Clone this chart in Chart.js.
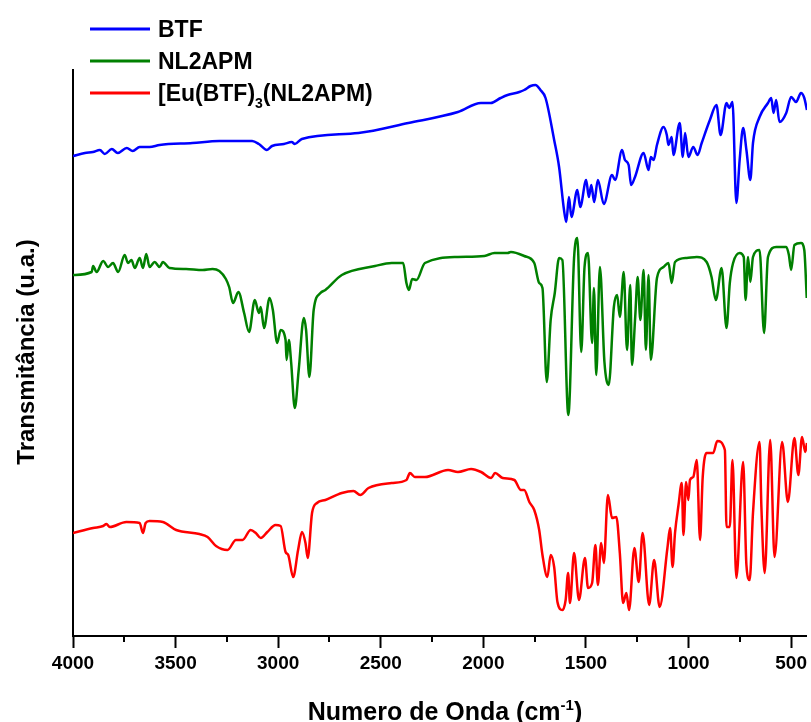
<!DOCTYPE html>
<html>
<head>
    <title>FTIR BTF / NL2APM / Eu complex</title>
    <script src="https://cdn.jsdelivr.net/npm/chart.js"></script>
    <style>
        html, body { margin: 0; padding: 0; background: #fff; overflow: hidden; }
        #chart-container { width: 811px; height: 722px; }
    </style>
</head>
<body>
    <div id="chart-container">
        <canvas id="ftirChart"></canvas>
    </div>

    <script>
    // eixo x (número de onda, cm-1)
    const wavenumberTicks = [4000, 3500, 3000, 2500, 2000, 1500, 1000, 500];
    const minorTicks = [3750, 3250, 2750, 2250, 1750, 1250, 750];

    // BTF
    const btfWave = [4000,3942,3903,3869,3845,3811,3782,3738,3709,3675,3627,3578,3418,3287,3157,3127,3094,3055,3030,2972,2934,2919,2885,2609,2366,2124,2012,1964,1916,1882,1825,1801,1770,1746,1722,1697,1655,1631,1607,1596,1583,1571,1542,1528,1499,1486,1474,1460,1442,1413,1373,1358,1324,1310,1292,1280,1261,1219,1195,1184,1170,1154,1122,1106,1098,1082,1074,1043,1028,1017,1001,977,956,936,896,864,844,815,802,786,767,751,734,718,699,686,654,613,597,586,573,557,524,500,476,452,436,423];
    const btfT = [476,479,480,482,478,483,479,484,481,485,485,487,489,491,491,491,488,482,486,488,490,488,493,499,509,520,529,529,534,537,540,542,546,547,542,534,492,465,422,410,435,415,442,425,452,435,447,430,452,428,457,452,482,472,467,447,455,479,462,475,472,487,505,497,487,495,477,509,475,499,475,485,477,489,512,527,497,529,524,530,429,472,504,482,452,489,515,529,534,519,532,510,519,535,530,539,534,522];

    // NL2APM
    const nlWave = [4000,3909,3902,3885,3853,3829,3805,3780,3748,3732,3715,3699,3675,3659,3643,3627,3602,3578,3562,3530,3449,3368,3320,3287,3255,3239,3220,3194,3166,3142,3114,3094,3085,3069,3042,3026,3005,2988,2964,2959,2948,2937,2919,2900,2875,2864,2848,2827,2794,2770,2690,2528,2447,2391,2375,2363,2347,2326,2285,2124,1995,1946,1882,1866,1801,1752,1728,1712,1691,1672,1652,1631,1615,1586,1558,1542,1523,1507,1490,1470,1461,1450,1432,1410,1389,1364,1348,1335,1316,1300,1284,1276,1260,1248,1235,1219,1208,1195,1184,1154,1122,1098,1082,1066,1009,960,912,888,867,839,815,799,783,751,731,722,710,699,686,654,632,613,573,524,511,500,484,452,436,424];
    const nlT = [357,360,366,360,371,365,369,360,377,369,372,364,374,364,378,365,370,365,370,364,363,362,363,361,353,345,329,340,319,300,332,319,325,304,334,322,289,302,292,272,292,270,224,262,314,302,255,322,339,342,357,366,369,369,349,342,353,352,369,375,376,379,379,380,376,369,349,344,250,312,339,374,372,217,374,394,280,365,379,289,344,257,365,270,247,325,337,315,360,282,347,267,315,355,312,362,282,357,272,354,365,369,349,370,374,375,370,355,332,364,304,349,369,379,375,332,375,350,375,382,299,375,385,385,377,362,387,389,382,334];

    // [Eu(BTF)3(NL2APM)
    const euWave = [4000,3902,3853,3837,3821,3740,3675,3659,3646,3627,3562,3497,3384,3344,3303,3247,3206,3174,3134,3109,3085,3053,3013,2988,2964,2951,2927,2903,2884,2867,2856,2835,2811,2770,2690,2633,2600,2560,2447,2375,2358,2334,2285,2172,2124,2060,2011,1962,1943,1906,1849,1817,1801,1776,1752,1728,1712,1688,1672,1655,1639,1615,1599,1587,1578,1558,1534,1505,1490,1470,1454,1442,1426,1413,1393,1373,1352,1335,1319,1303,1290,1264,1243,1224,1192,1168,1141,1103,1090,1078,1066,1049,1033,1025,1012,1001,993,977,960,944,931,912,880,860,823,815,799,786,767,734,718,702,686,654,645,629,602,581,544,516,484,465,447,431,423];
    const euT = [99,104,106,108,105,110,109,99,109,111,110,102,98,95,86,82,92,92,102,99,94,100,107,106,80,77,55,82,100,89,74,119,129,132,139,141,137,144,149,152,159,155,155,162,160,163,160,154,159,154,152,142,142,130,122,102,77,55,77,65,30,22,32,59,29,79,32,74,44,49,87,47,89,69,137,114,115,79,29,39,22,84,50,99,27,72,25,84,104,65,99,127,149,97,150,132,152,155,172,92,155,179,179,191,182,105,105,172,54,170,67,52,119,190,125,59,192,75,190,130,194,157,195,180,189];

    const FONT = '"Liberation Sans", Arial, Helvetica, sans-serif';

    function toPoints(wave, t) {
        if (wave.length !== t.length) console.warn('tamanhos diferentes', wave.length, t.length);
        return wave.map((w, i) => ({ x: w, y: t[i] }));
    }

    // títulos, legenda e ticks menores
    const decorations = {
        id: 'decorations',
        afterDraw(chart) {
            const ctx = chart.ctx;
            const area = chart.chartArea;
            const xs = chart.scales.x;
            ctx.save();
            ctx.strokeStyle = '#000';
            ctx.fillStyle = '#000';
            ctx.lineWidth = 2;

            // ticks menores
            minorTicks.forEach(v => {
                const px = Math.round(xs.getPixelForValue(v));
                ctx.beginPath();
                ctx.moveTo(px, area.bottom);
                ctx.lineTo(px, area.bottom + 6);
                ctx.stroke();
            });

            // título eixo x com sobrescrito
            const main = 'Numero de Onda (cm';
            const sup = '-1';
            const close = ')';
            ctx.font = 'bold 25px ' + FONT;
            const w1 = ctx.measureText(main).width;
            const w3 = ctx.measureText(close).width;
            ctx.font = 'bold 15px ' + FONT;
            const w2 = ctx.measureText(sup).width;
            let x0 = 445 - (w1 + w2 + w3) / 2;
            const base = 720;
            ctx.textBaseline = 'alphabetic';
            ctx.textAlign = 'left';
            ctx.font = 'bold 25px ' + FONT;
            ctx.fillText(main, x0, base);
            ctx.font = 'bold 15px ' + FONT;
            ctx.fillText(sup, x0 + w1, base - 10);
            ctx.font = 'bold 25px ' + FONT;
            ctx.fillText(close, x0 + w1 + w2, base);

            // título eixo y
            ctx.save();
            ctx.translate(34, 352);
            ctx.rotate(-Math.PI / 2);
            ctx.textAlign = 'center';
            ctx.font = 'bold 24px ' + FONT;
            ctx.fillText('Transmitância (u.a.)', 0, 0);
            ctx.restore();

            // legenda
            const rows = [
                { color: '#0000ff', y: 29, parts: [['BTF', 23, 0]] },
                { color: '#008000', y: 61, parts: [['NL2APM', 23, 0]] },
                { color: '#ff0000', y: 93, parts: [['[Eu(BTF)', 23, 0], ['3', 14, 7], ['(NL2APM)', 23, 0]] }
            ];
            rows.forEach(r => {
                ctx.strokeStyle = r.color;
                ctx.lineWidth = 3;
                ctx.beginPath();
                ctx.moveTo(90, r.y);
                ctx.lineTo(150, r.y);
                ctx.stroke();
                let tx = 158;
                r.parts.forEach(([txt, size, dy]) => {
                    ctx.font = 'bold ' + size + 'px ' + FONT;
                    ctx.fillStyle = '#000';
                    ctx.fillText(txt, tx, r.y + 8 + dy);
                    tx += ctx.measureText(txt).width;
                });
            });
            ctx.restore();
        }
    };

    function createChart() {
        const canvas = document.getElementById('ftirChart');
        const series = (label, color, wave, t) => ({
            label: label,
            data: toPoints(wave, t),
            borderColor: color,
            borderWidth: 2.5,
            pointRadius: 0,
            fill: false,
            cubicInterpolationMode: 'monotone'
        });
        new Chart(canvas, {
            type: 'line',
            data: {
                datasets: [
                    series('BTF', '#0000ff', btfWave, btfT),
                    series('NL2APM', '#008000', nlWave, nlT),
                    series('[Eu(BTF)3(NL2APM)', '#ff0000', euWave, euT)
                ]
            },
            options: {
                responsive: true,
                maintainAspectRatio: false,
                animation: false,
                events: [],
                layout: { padding: { top: 70, left: 0, right: 0, bottom: 0 } },
                plugins: {
                    legend: { display: false },
                    tooltip: { enabled: false }
                },
                scales: {
                    x: {
                        type: 'linear',
                        reverse: true,
                        min: 423,
                        max: 4000,
                        afterBuildTicks: s => { s.ticks = wavenumberTicks.map(v => ({ value: v })); },
                        afterFit: s => { s.height = 86; },
                        border: { display: true, color: '#000', width: 2 },
                        grid: { drawOnChartArea: false, drawTicks: true, tickLength: 12, tickColor: '#000', tickWidth: 2 },
                        ticks: {
                            color: '#000',
                            padding: 4,
                            maxRotation: 0,
                            autoSkip: false,
                            font: { family: FONT, size: 19, weight: 'bold' },
                            callback: v => String(v)
                        }
                    },
                    y: {
                        min: -4,
                        max: 562,
                        afterFit: s => { s.width = 73; },
                        border: { display: true, color: '#000', width: 2 },
                        grid: { display: false },
                        ticks: { display: false }
                    }
                }
            },
            plugins: [decorations]
        });
    }

    window.onload = () => {
        createChart();
    };
    </script>
</body>
</html>
